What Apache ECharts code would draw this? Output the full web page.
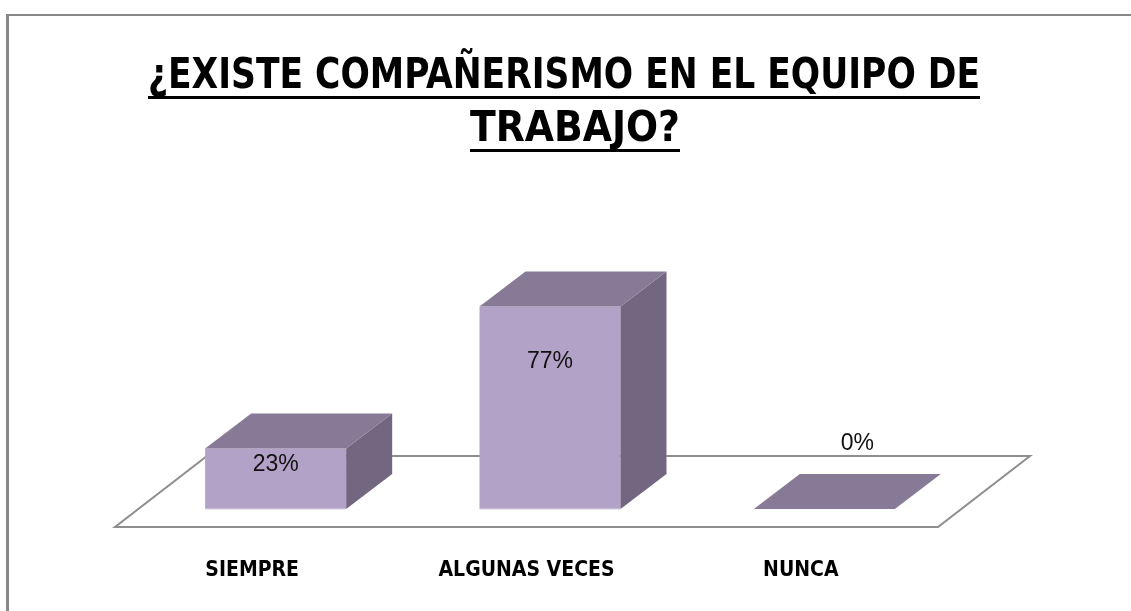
<!DOCTYPE html>
<html>
<head>
<meta charset="utf-8">
<script src="https://cdn.jsdelivr.net/npm/echarts@6/dist/echarts.min.js"></script>
<style>
html,body{margin:0;padding:0;background:#fff;}
#chart{width:1131px;height:611px;}
</style>
</head>
<body>
<div id="chart"></div>
<script>
const titleLines = ['¿EXISTE COMPAÑERISMO EN EL EQUIPO DE', 'TRABAJO?'];
const categories = ['SIEMPRE', 'ALGUNAS VECES', 'NUNCA'];
const values = [23, 77, 0];

const FRONT = '#B2A2C7', TOP = '#877A96', SIDE = '#736680';
const FLOOR_LINE = '#8E8E8E';
const NARROW = '"Liberation Sans Narrow", "DejaVu Sans Condensed", "Liberation Sans", sans-serif';
const REG = '"Liberation Sans", Arial, sans-serif';

function measure(text, font) {
  const c = document.createElement('canvas').getContext('2d');
  c.font = font;
  return c.measureText(text).width;
}

const chart = echarts.init(document.getElementById('chart'), null, {renderer: 'canvas'});

const TITLE_SIZE = 43;
const TITLE_FONT = 'bold ' + TITLE_SIZE + 'px ' + NARROW;
const titleTargetW = [832, 210];
const titleCx = [564, 575];
const titleMid = [77, 130];
const underlineY = [96, 149];
const titleGraphics = [];
titleLines.forEach((t, i) => {
  const raw = measure(t, TITLE_FONT);
  const sc = titleTargetW[i] / raw;
  titleGraphics.push({
    type: 'text', x: titleCx[i], y: titleMid[i], scaleX: sc,
    style: {text: t, fill: '#000', font: TITLE_FONT, align: 'center', verticalAlign: 'middle'}
  });
  const w = raw * sc;
  titleGraphics.push({
    type: 'rect', shape: {x: titleCx[i] - w / 2, y: underlineY[i], width: w, height: 3},
    style: {fill: '#000'}
  });
});

const DX = 46, DY = -35;      // bar depth
const OX = 23.5, OY = -18;     // bar front offset from floor front
const FDX = 92, FDY = -71;     // floor depth

function renderFloor(params, api) {
  const cs = params.coordSys;
  const xl = cs.x, xr = cs.x + cs.width, yb = cs.y + cs.height;
  return {
    type: 'polygon',
    shape: {points: [[xl, yb], [xr, yb], [xr + FDX, yb + FDY], [xl + FDX, yb + FDY]]},
    style: {fill: '#fff', stroke: FLOOR_LINE, lineWidth: 2}
  };
}

function renderBar(params, api) {
  const idx = api.value(0), v = api.value(1);
  const base = api.coord([idx, 0]);
  const top = api.coord([idx, v]);
  const band = api.size([1, 0])[0];
  const w = band * 0.514;
  const x0 = base[0] + OX - w / 2, x1 = x0 + w;
  const yb = base[1] + OY, yt = top[1] + OY;
  const h = yb - yt;
  const children = [];
  if (h > 0.5) {
    children.push({type: 'rect', shape: {x: x0, y: yt, width: w, height: h}, style: {fill: FRONT}});
    children.push({type: 'polygon', shape: {points: [[x1, yt], [x1 + DX, yt + DY], [x1 + DX, yb + DY], [x1, yb]]}, style: {fill: SIDE}});
    children.push({type: 'line', shape: {x1: x0, y1: yb, x2: x1, y2: yb}, style: {stroke: '#D8D0E4', lineWidth: 1}});
  }
  children.push({type: 'polygon', shape: {points: [[x0, yt], [x1, yt], [x1 + DX, yt + DY], [x0 + DX, yt + DY]]}, style: {fill: TOP}});
  let lx, ly;
  if (h > 0.5) { lx = (x0 + x1) / 2; ly = yt + 0.27 * h; }
  else { lx = (x0 + x1) / 2 + 0.72 * DX; ly = yb - 65; }
  children.push({type: 'text', x: lx, y: ly, style: {text: v + '%', fill: '#111', font: '23px ' + REG, align: 'center', verticalAlign: 'middle'}});
  return {type: 'group', children: children};
}

const barData = categories.map((c, i) => [i, values[i]]);

chart.setOption({
  animation: false,
  backgroundColor: '#fff',
  grid: {left: 115, right: 193, top: 264, bottom: 84, containLabel: false},
  xAxis: {
    type: 'category', data: categories,
    axisLine: {show: false}, axisTick: {show: false}, splitLine: {show: false},
    axisLabel: {color: '#000', fontSize: 21, fontWeight: 'bold', fontFamily: NARROW, margin: 33, interval: 0}
  },
  yAxis: {type: 'value', min: 0, max: 100, show: false},
  series: [
    {type: 'custom', renderItem: renderFloor, data: [[0, 0]], z: 1, silent: true},
    {type: 'custom', renderItem: renderBar, data: barData, encode: {x: 0, y: 1}, z: 2}
  ],
  graphic: [
    {type: 'line', shape: {x1: 7.5, y1: 15, x2: 7.5, y2: 620}, style: {stroke: '#888', lineWidth: 3}},
    {type: 'line', shape: {x1: 6, y1: 15, x2: 1140, y2: 15}, style: {stroke: '#888', lineWidth: 2}}
  ].concat(titleGraphics)
});
</script>
</body>
</html>
